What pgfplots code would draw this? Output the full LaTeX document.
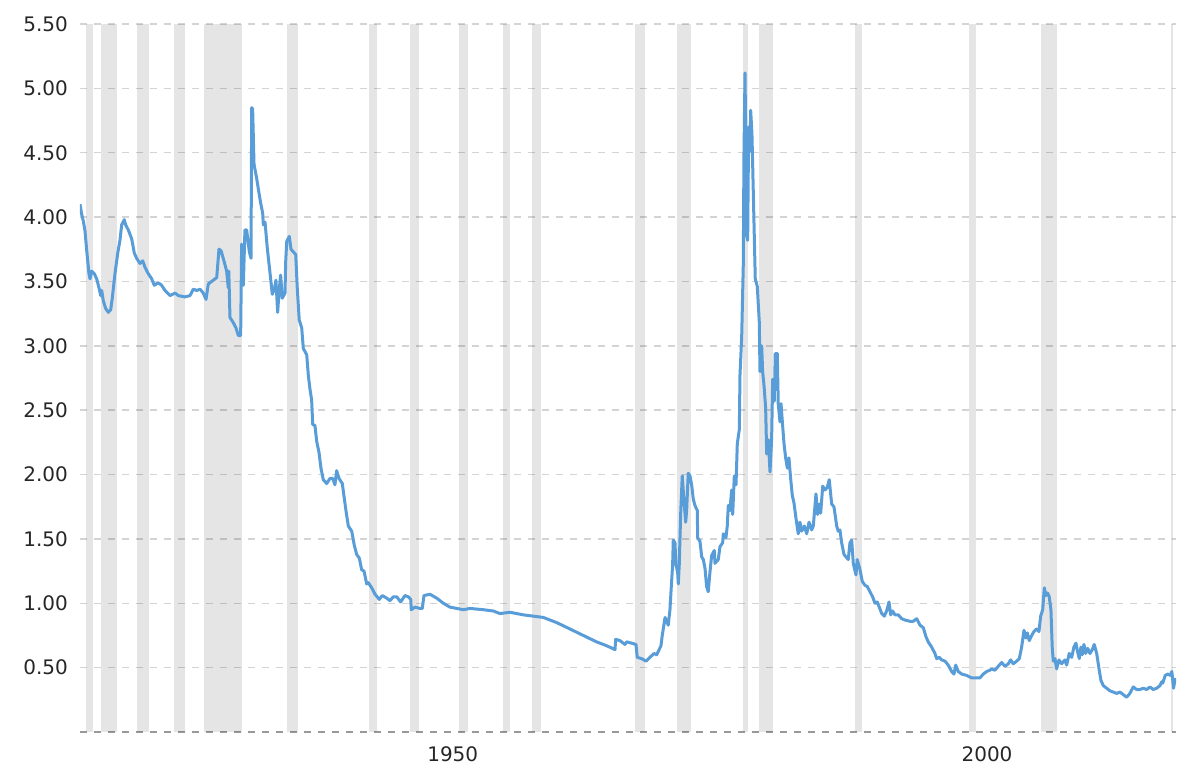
\documentclass[border=0pt]{standalone}
\usepackage{fontspec}
\setmainfont{DejaVu Sans}
\usepackage{pgfplots}
\usepackage{pgfplotstable}
\pgfplotsset{compat=1.18}
\definecolor{lineblue}{RGB}{88,156,216}

\pgfplotstableread{
year value
1918.00 4.10
1918.16 4.02
1918.31 3.97
1918.47 3.89
1918.63 3.74
1918.84 3.56
1918.94 3.52
1919.09 3.58
1919.34 3.56
1919.56 3.52
1919.78 3.45
1919.94 3.39
1920.03 3.43
1920.18 3.35
1920.40 3.29
1920.65 3.26
1920.87 3.28
1921.02 3.37
1921.27 3.56
1921.53 3.72
1921.74 3.82
1921.90 3.94
1922.14 3.98
1922.27 3.94
1922.52 3.90
1922.84 3.83
1923.08 3.72
1923.30 3.68
1923.61 3.64
1923.87 3.66
1924.08 3.61
1924.39 3.56
1924.71 3.52
1924.95 3.47
1925.32 3.49
1925.64 3.47
1925.95 3.43
1926.42 3.39
1926.89 3.41
1927.20 3.39
1927.82 3.38
1928.29 3.39
1928.60 3.44
1928.92 3.43
1929.23 3.44
1929.53 3.41
1929.79 3.36
1930.00 3.48
1930.47 3.51
1930.79 3.53
1931.00 3.75
1931.19 3.74
1931.50 3.65
1931.72 3.58
1931.87 3.45
1931.92 3.58
1932.03 3.22
1932.34 3.18
1932.59 3.14
1932.81 3.08
1933.03 3.08
1933.12 3.79
1933.28 3.47
1933.43 3.90
1933.59 3.90
1933.84 3.73
1934.00 3.68
1934.06 4.85
1934.15 4.84
1934.28 4.41
1934.53 4.30
1934.68 4.22
1934.90 4.11
1935.09 4.03
1935.15 3.94
1935.31 3.96
1935.52 3.76
1935.77 3.57
1935.99 3.40
1936.18 3.44
1936.33 3.51
1936.49 3.26
1936.64 3.44
1936.77 3.55
1936.92 3.37
1937.18 3.41
1937.24 3.65
1937.34 3.81
1937.58 3.85
1937.74 3.75
1937.95 3.73
1938.18 3.71
1938.33 3.44
1938.51 3.20
1938.74 3.14
1938.89 2.98
1939.21 2.93
1939.36 2.77
1939.52 2.66
1939.67 2.58
1939.77 2.39
1939.98 2.38
1940.14 2.26
1940.36 2.17
1940.54 2.05
1940.76 1.96
1941.08 1.93
1941.39 1.97
1941.64 1.97
1941.85 1.92
1942.01 2.03
1942.23 1.97
1942.54 1.93
1942.70 1.83
1942.88 1.72
1943.10 1.60
1943.42 1.56
1943.66 1.45
1943.88 1.38
1944.13 1.35
1944.35 1.26
1944.57 1.25
1944.82 1.15
1944.97 1.16
1945.29 1.12
1945.60 1.07
1946.00 1.03
1946.28 1.06
1946.69 1.04
1947.00 1.02
1947.31 1.05
1947.63 1.05
1948.00 1.01
1948.40 1.06
1948.71 1.05
1948.94 1.03
1948.99 0.95
1949.34 0.97
1949.81 0.96
1950.02 0.96
1950.18 1.06
1950.74 1.07
1951.37 1.04
1951.99 1.00
1952.61 0.97
1953.24 0.96
1953.86 0.95
1954.48 0.96
1955.73 0.95
1956.66 0.94
1957.29 0.92
1958.22 0.93
1959.47 0.91
1960.40 0.90
1961.34 0.89
1962.59 0.85
1963.84 0.80
1965.08 0.75
1966.33 0.70
1967.27 0.67
1968.05 0.64
1968.11 0.72
1968.51 0.71
1968.98 0.68
1969.14 0.70
1969.61 0.69
1970.01 0.68
1970.13 0.58
1970.54 0.57
1970.95 0.55
1971.32 0.58
1971.70 0.61
1971.95 0.60
1972.35 0.67
1972.47 0.75
1972.73 0.89
1973.03 0.83
1973.19 0.95
1973.28 1.08
1973.44 1.30
1973.50 1.49
1973.66 1.47
1973.75 1.30
1973.91 1.24
1973.97 1.15
1974.06 1.30
1974.19 1.69
1974.34 1.99
1974.50 1.80
1974.66 1.63
1974.75 1.72
1974.90 2.01
1975.06 1.99
1975.22 1.92
1975.37 1.81
1975.53 1.76
1975.75 1.72
1975.78 1.51
1976.00 1.48
1976.16 1.36
1976.31 1.34
1976.47 1.27
1976.62 1.13
1976.77 1.09
1976.93 1.24
1977.09 1.37
1977.34 1.41
1977.40 1.31
1977.71 1.34
1977.87 1.44
1978.12 1.47
1978.18 1.54
1978.43 1.51
1978.55 1.60
1978.65 1.76
1978.80 1.72
1978.96 1.88
1979.06 1.69
1979.21 1.99
1979.37 1.92
1979.49 2.24
1979.68 2.35
1979.74 2.77
1979.90 3.07
1980.05 3.63
1980.11 4.46
1980.21 5.12
1980.30 4.46
1980.37 3.85
1980.46 3.82
1980.55 4.70
1980.68 4.51
1980.74 4.83
1980.86 4.65
1980.99 4.18
1981.17 3.52
1981.36 3.46
1981.55 3.18
1981.61 2.80
1981.77 3.00
1981.86 2.80
1981.99 2.69
1982.14 2.52
1982.24 2.16
1982.39 2.27
1982.55 2.02
1982.70 2.27
1982.80 2.74
1982.95 2.57
1983.04 2.94
1983.23 2.94
1983.32 2.55
1983.48 2.41
1983.58 2.55
1983.73 2.38
1983.86 2.24
1984.01 2.13
1984.17 2.05
1984.32 2.13
1984.48 1.97
1984.63 1.84
1984.79 1.78
1984.98 1.66
1985.19 1.54
1985.35 1.63
1985.51 1.56
1985.76 1.60
1985.98 1.54
1986.20 1.63
1986.45 1.57
1986.60 1.60
1986.85 1.85
1987.01 1.69
1987.16 1.77
1987.29 1.70
1987.48 1.91
1987.69 1.88
1987.91 1.90
1988.09 1.96
1988.32 1.77
1988.53 1.75
1988.79 1.60
1988.93 1.56
1989.09 1.57
1989.25 1.47
1989.47 1.38
1989.65 1.36
1989.87 1.34
1990.03 1.47
1990.19 1.49
1990.34 1.31
1990.59 1.22
1990.71 1.34
1990.97 1.26
1991.18 1.17
1991.43 1.14
1991.65 1.13
1991.90 1.09
1992.15 1.05
1992.37 1.00
1992.58 1.01
1992.77 0.97
1993.00 0.92
1993.24 0.90
1993.46 0.94
1993.68 1.01
1993.84 0.91
1994.02 0.94
1994.24 0.91
1994.55 0.91
1994.87 0.88
1995.17 0.87
1995.64 0.86
1995.95 0.86
1996.27 0.88
1996.58 0.83
1996.89 0.81
1997.14 0.74
1997.35 0.70
1997.67 0.66
1997.98 0.61
1998.14 0.57
1998.38 0.58
1998.61 0.56
1998.92 0.55
1999.22 0.52
1999.54 0.47
1999.76 0.45
1999.92 0.52
2000.16 0.47
2000.48 0.45
2000.94 0.44
2001.41 0.42
2001.88 0.42
2002.19 0.42
2002.50 0.45
2002.82 0.47
2003.12 0.48
2003.28 0.49
2003.59 0.48
2003.90 0.51
2004.22 0.54
2004.53 0.51
2004.84 0.53
2005.06 0.56
2005.31 0.53
2005.62 0.55
2005.87 0.57
2006.09 0.66
2006.31 0.79
2006.49 0.73
2006.62 0.77
2006.80 0.71
2007.03 0.75
2007.24 0.78
2007.49 0.80
2007.71 0.78
2007.87 0.90
2008.06 0.95
2008.21 1.12
2008.36 1.06
2008.52 1.08
2008.67 1.05
2008.83 0.95
2008.95 0.66
2009.05 0.55
2009.21 0.57
2009.36 0.49
2009.58 0.56
2009.83 0.53
2010.14 0.56
2010.30 0.52
2010.54 0.61
2010.77 0.58
2010.98 0.66
2011.17 0.69
2011.33 0.62
2011.48 0.57
2011.64 0.66
2011.76 0.60
2011.92 0.68
2012.08 0.61
2012.27 0.65
2012.48 0.61
2012.70 0.64
2012.88 0.68
2013.11 0.61
2013.35 0.48
2013.51 0.40
2013.73 0.36
2014.04 0.34
2014.35 0.32
2014.66 0.31
2014.98 0.30
2015.29 0.31
2015.60 0.29
2015.91 0.27
2016.22 0.30
2016.53 0.35
2016.85 0.33
2017.16 0.33
2017.47 0.34
2017.79 0.33
2018.09 0.35
2018.40 0.33
2018.72 0.34
2019.03 0.36
2019.19 0.39
2019.29 0.38
2019.52 0.44
2019.76 0.45
2019.98 0.44
2020.14 0.47
2020.30 0.34
2020.46 0.42
}\ratiodata

\newcommand{\recession}[2]{\addplot[fill=black, fill opacity=0.1, draw=none, forget plot] coordinates {(#1,0) (#1,5.5) (#2,5.5) (#2,0)};}

\begin{document}
\begin{tikzpicture}
\useasboundingbox (-40pt,-19pt) rectangle (560pt,366pt);
\begin{axis}[
  scale only axis,
  width=548pt, height=354pt,
  at={(0pt,0pt)}, anchor=south west,
  xmin=1918, xmax=2020.53,
  ymin=0, ymax=5.5,
  axis line style={draw=none},
  major tick length=0pt,
  xtick={1952.87,2002.85},
  xticklabels={1950,2000},
  ytick={0.5,1,1.5,2,2.5,3,3.5,4,4.5,5,5.5},
  yticklabels={0.50,1.00,1.50,2.00,2.50,3.00,3.50,4.00,4.50,5.00,5.50},
  extra y ticks={0},
  extra y tick labels={},
  extra y tick style={grid style={dash pattern=on 3.5pt off 3.5pt, draw=black, opacity=0.4, line width=0.7pt}},
  ymajorgrids,
  grid style={dash pattern=on 3.5pt off 3.5pt, draw=black, opacity=0.17, line width=0.7pt},
  tick label style={font=\fontsize{10}{12}\selectfont, text=black!85},
  yticklabel style={xshift=-2.5pt},
  xticklabel style={yshift=-4pt},
  /pgf/number format/assume math mode=true,
]
\recession{1918.58}{1919.17}
\recession{1920.00}{1921.50}
\recession{1923.33}{1924.50}
\recession{1926.75}{1927.83}
\recession{1929.58}{1933.17}
\recession{1937.33}{1938.42}
\recession{1945.08}{1945.75}
\recession{1948.83}{1949.75}
\recession{1953.50}{1954.33}
\recession{1957.58}{1958.25}
\recession{1960.25}{1961.08}
\recession{1969.92}{1970.83}
\recession{1973.83}{1975.17}
\recession{1980.00}{1980.50}
\recession{1981.50}{1982.83}
\recession{1990.50}{1991.17}
\recession{2001.17}{2001.83}
\recession{2007.92}{2009.42}
\recession{2020.08}{2020.25}
\addplot[lineblue, line width=1.5pt, line join=round, mark=none] table[x=year, y=value] {\ratiodata};
\end{axis}
\end{tikzpicture}
\end{document}
